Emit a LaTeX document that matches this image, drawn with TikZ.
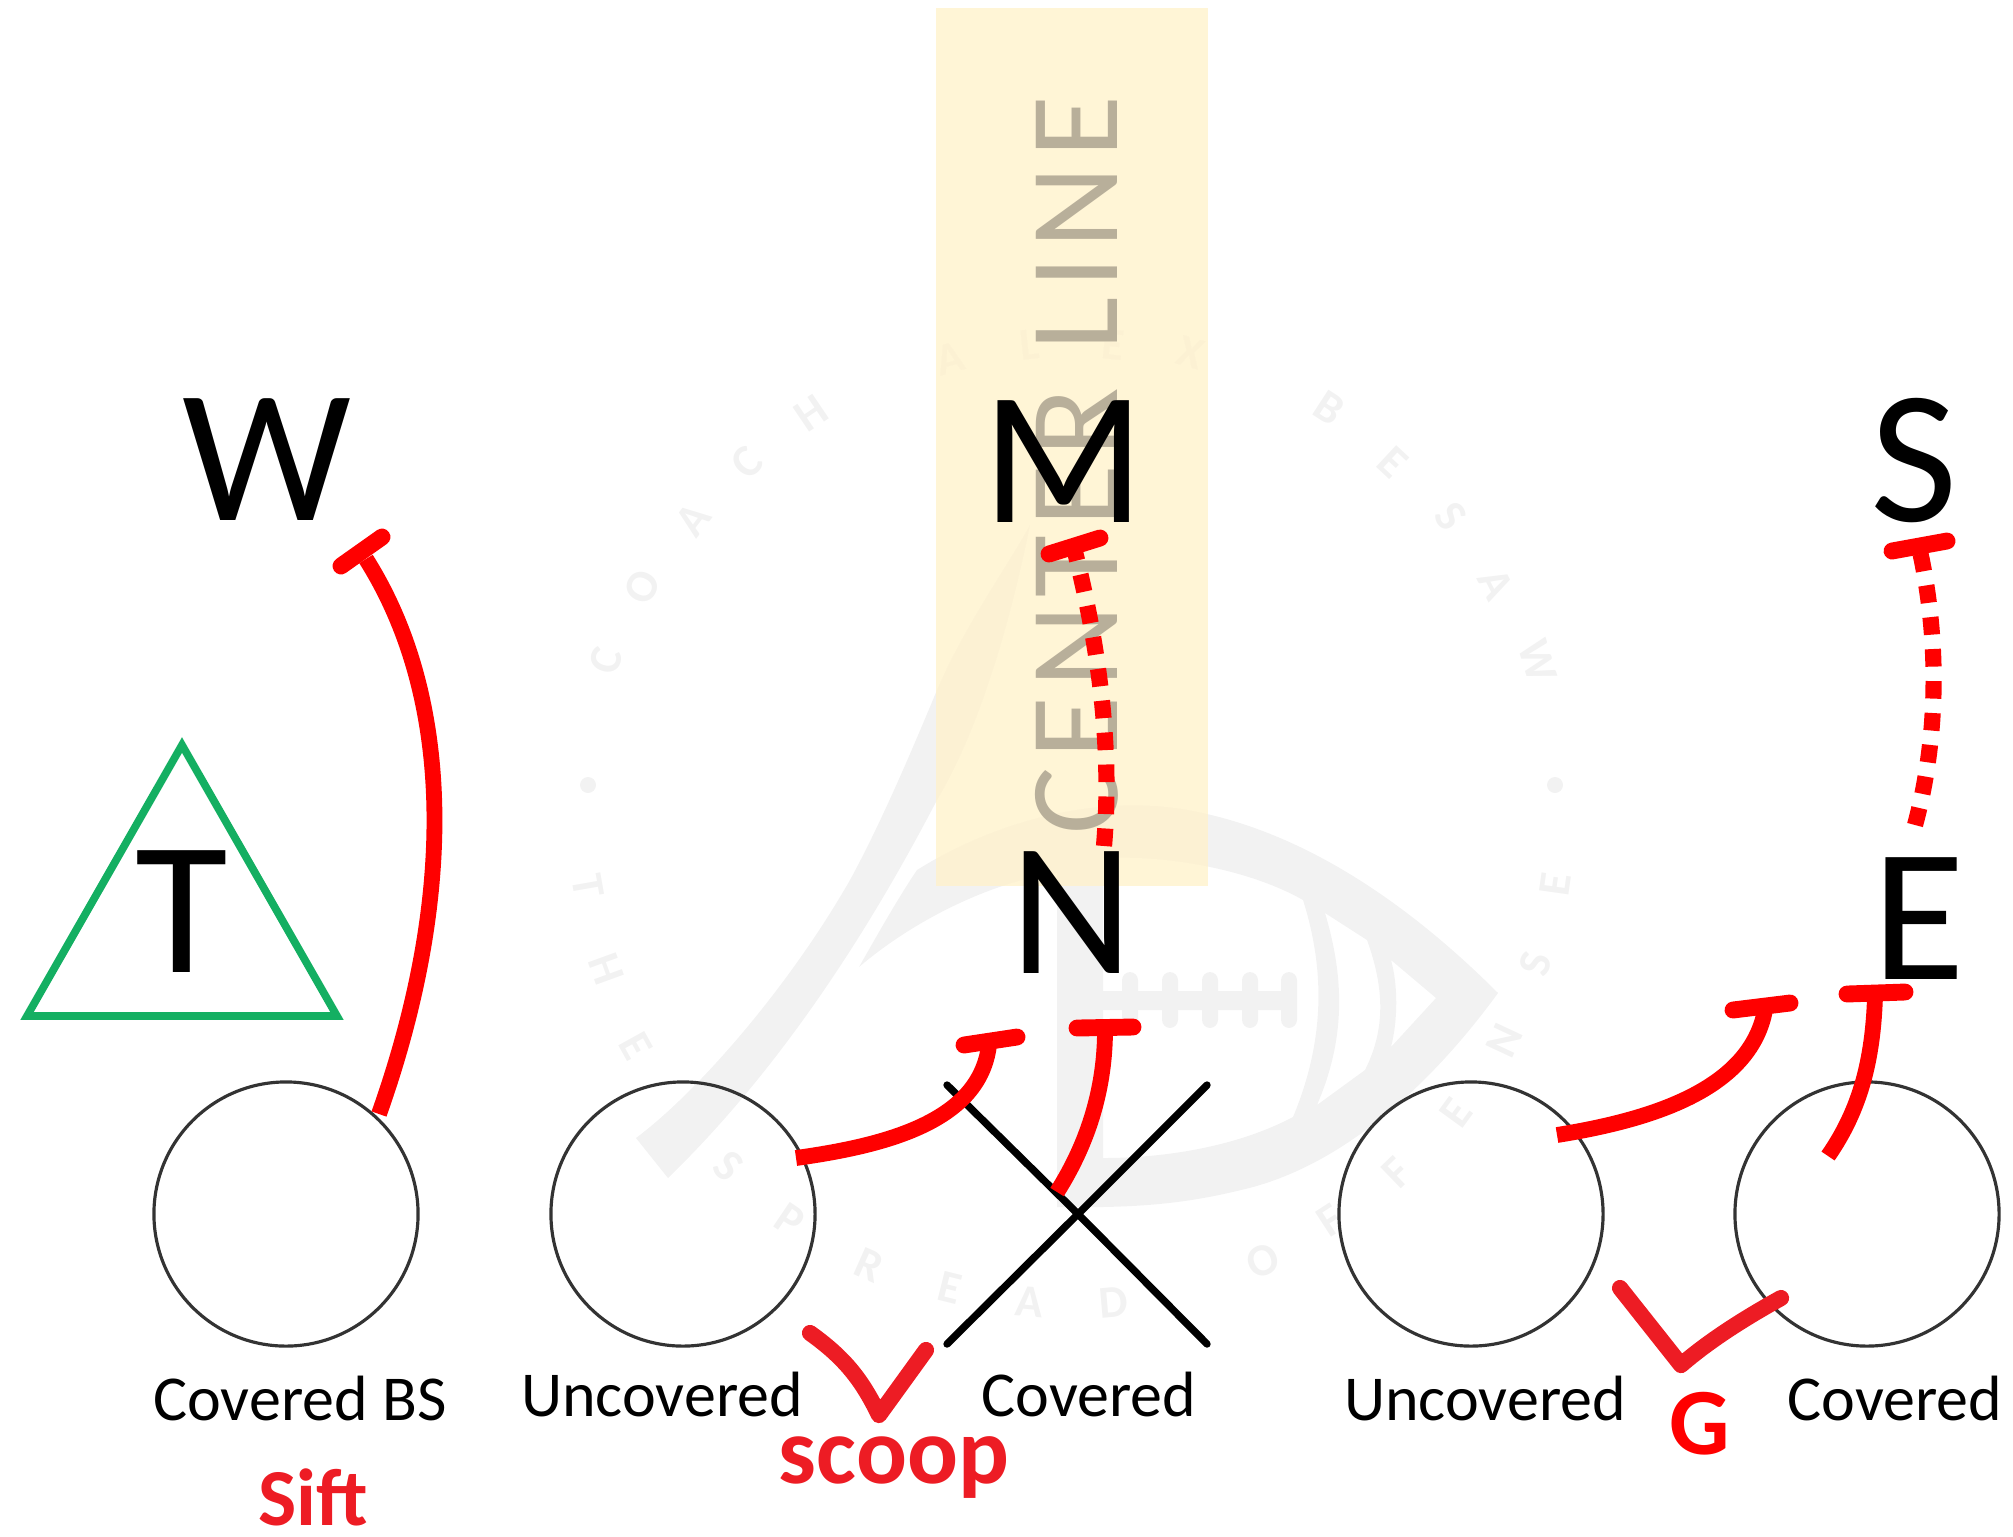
\documentclass[tikz,border=0pt]{standalone}
\usepackage{fontspec}
\setmainfont{Carlito}
\usepackage{xcolor}
\definecolor{notered}{HTML}{ED1C24}
\definecolor{paleyellow}{HTML}{FFF2CC}
\definecolor{linegray}{HTML}{B8AF9A}
\definecolor{trianglegreen}{HTML}{14AF62}
\definecolor{rimgray}{HTML}{333333}
\tikzset{
  player/.style={anchor=base,inner sep=0pt,font=\fontsize{54}{60}\selectfont},
  gapname/.style={anchor=base,inner sep=0pt,font=\fontsize{18.2}{22}\selectfont},
  gapcircle/.style={circle,draw=rimgray,line width=0.9pt,inner sep=0pt,minimum size=2.64cm},
  blockline/.style={draw=red,line width=4.5pt},
  blockdots/.style={draw=red,line width=4.6pt,dash pattern=on 5pt off 4.1pt},
  blockbar/.style={draw=red,line width=4.8pt,line cap=round},
  checkline/.style={draw=notered,line width=4.6pt,line cap=round,line join=round},
  crossline/.style={draw=black,line width=2.1pt,line cap=round},
  wmletter/.style={inner sep=0pt,text opacity=0.05,font=\fontsize{13}{15}\bfseries\selectfont}
}
\begin{document}
\begin{tikzpicture}[x=0.01cm,y=-0.01cm]
          \useasboundingbox (0,0) rectangle (2013,1536);
          \begin{scope}[transparency group,opacity=0.05]
            \fill[black,even odd rule] (859,967) .. controls (880,930) and (900,895) .. (917,870)
              .. controls (1000,818) and (1110,790) .. (1207,814)
              .. controls (1320,840) and (1420,915) .. (1498,993)
              .. controls (1420,1100) and (1330,1170) .. (1241,1190)
              .. controls (1180,1205) and (1130,1208) .. (1057,1207) -- (1057,873)
              .. controls (1000,880) and (920,915) .. (859,967) -- cycle
              (1103,858) .. controls (1170,855) and (1250,870) .. (1303,900)
              .. controls (1325,970) and (1325,1040) .. (1293,1117)
              .. controls (1240,1145) and (1170,1158) .. (1103,1158) -- cycle
              (1325,913) -- (1367,940) .. controls (1385,990) and (1385,1030) .. (1365,1070)
              -- (1317,1105) .. controls (1345,1040) and (1345,980) .. (1325,913) -- cycle
              (1391,960) -- (1436,998) -- (1391,1047) .. controls (1398,1020) and (1398,985) .. (1391,960) -- cycle;
            \fill[black] (636,1138) .. controls (700,1090) and (790,985) .. (850,880)
              .. controls (880,825) and (910,755) .. (937,690)
              .. controls (965,625) and (1005,570) .. (1030,525)
              .. controls (1015,600) and (985,720) .. (937,800)
              .. controls (890,890) and (800,1050) .. (668,1178) -- cycle;
            \fill[black] (1103,991) rectangle (1296,1010);
            \foreach \px in {1130,1170,1210,1250,1289}
              \fill[black,rounded corners=7pt/3] (\px-8,972) rectangle (\px+8,1028);
          \end{scope}
          \foreach \ltr/\px/\py/\ang [count=\i] in {C/606/661/73,O/642/587/63,A/693/520/53,C/747/462/44,H/811/413/34,A/950/359/15,L/1030/345/6,E/1113/345/-6,X/1191/353/-16,B/1329/408/-33,E/1393/462/-43,S/1451/516/-53,A/1496/584/-63,W/1538/661/-73,T/588/886/-80,H/606/969/-70,E/636/1046/-61,S/729/1166/-43,P/790/1220/-34,R/869/1265/-24,E/950/1288/-14,A/1030/1302/-5,D/1114/1302/5,O/1263/1261/23,F/1330/1220/33,F/1397/1173/44,E/1456/1113/54,N/1504/1041/65,S/1535/964/73,E/1555/884/82}
            \node[wmletter,rotate=\ang] (wm\i) at (\px,\py) {\ltr};
          \fill[black,opacity=0.05] (588,785) circle (8);
          \fill[black,opacity=0.05] (1555,785) circle (8);
          \fill[paleyellow,fill opacity=0.8] (936,8) rectangle (1208,886);
          \node[anchor=base,inner sep=0pt,rotate=90,text=linegray,font=\fontsize{36}{42}\selectfont\addfontfeature{LetterSpace=6.8}] (CL) at (1117,465) {CENTER LINE};
          \node[gapcircle] (CBS) at (286,1214) {};
          \node[gapcircle] (UL) at (683,1214) {};
          \node[gapcircle] (UR) at (1471,1214) {};
          \node[gapcircle] (CR) at (1867,1214) {};
          \coordinate (XC) at (1078,1214);
          \draw[crossline] (947,1085) -- (XC) -- (1207,1344);
          \draw[crossline] (947,1344) -- (XC) -- (1207,1085);
          \draw[draw=trianglegreen,line width=2.2pt,miter limit=10] (182,745) -- (337,1016) -- (27,1016) -- cycle;
          \node[player] (W) at (267,520) {W};
          \node[player] (T) at (182,972) {T};
          \node[player] (M) at (1064,522) {M};
          \node[player] (N) at (1072,973) {N};
          \node[player] (S) at (1914,521) {S};
          \node[player] (E) at (1919,979) {E};
          \node[gapname] (coverbs) at (300,1420) {Covered BS};
          \node[gapname] (uncleft) at (662,1416) {Uncovered};
          \node[gapname] (covleft) at (1089,1416) {Covered};
          \node[gapname] (uncright) at (1485,1420) {Uncovered};
          \node[gapname] (covright) at (1895,1420) {Covered};
          \node[anchor=base,inner sep=0pt,text=notered,font=\fontsize{23}{26}\bfseries\selectfont] (sift) at (313,1525) {Sift};
          \node[anchor=base,inner sep=0pt,text=notered,font=\fontsize{27}{32}\bfseries\selectfont] (scoop) at (894,1483) {scoop};
          \node[anchor=base,inner sep=0pt,text=red,font=\fontsize{27}{32}\bfseries\selectfont] (G) at (1700,1454) {G};
          \coordinate (wstart) at (379,1114);
          \coordinate (wend) at (366,559);
          \coordinate (wbarA) at (341,566);
          \coordinate (wbarB) at (382,537);
          \coordinate (ulstart) at (796,1158);
          \coordinate (ulend) at (989,1045);
          \coordinate (ulbarA) at (964,1045);
          \coordinate (ulbarB) at (1017,1037);
          \coordinate (nstart) at (1057,1192);
          \coordinate (nend) at (1105,1030);
          \coordinate (nbarA) at (1077,1028);
          \coordinate (nbarB) at (1133,1027);
          \coordinate (mstart) at (1104,846);
          \coordinate (mend) at (1074,548);
          \coordinate (mbarA) at (1049,554);
          \coordinate (mbarB) at (1100,538);
          \coordinate (ustart) at (1557,1135);
          \coordinate (uend) at (1765,1010);
          \coordinate (ubarA) at (1733,1010);
          \coordinate (ubarB) at (1790,1003);
          \coordinate (cstart) at (1828,1156);
          \coordinate (cend) at (1875,996);
          \coordinate (cbarA) at (1847,994);
          \coordinate (cbarB) at (1905,992);
          \coordinate (sstart) at (1915,825);
          \coordinate (send) at (1919,547);
          \coordinate (sbarA) at (1892,551);
          \coordinate (sbarB) at (1947,541);
          \draw[blockline] (wstart) .. controls (455,900) and (455,700) .. (wend);
          \draw[blockbar] (wbarA) -- (wbarB);
          \draw[blockline] (ulstart) .. controls (890,1145) and (980,1120) .. (ulend);
          \draw[blockbar] (ulbarA) -- (ulbarB);
          \draw[blockline] (nstart) .. controls (1090,1140) and (1105,1085) .. (nend);
          \draw[blockbar] (nbarA) -- (nbarB);
          \draw[blockdots] (mstart) .. controls (1112,750) and (1100,650) .. (mend);
          \draw[blockbar] (mbarA) -- (mbarB);
          \draw[blockline] (ustart) .. controls (1650,1120) and (1750,1090) .. (uend);
          \draw[blockbar] (ubarA) -- (ubarB);
          \draw[blockline] (cstart) .. controls (1860,1110) and (1873,1060) .. (cend);
          \draw[blockbar] (cbarA) -- (cbarB);
          \draw[blockdots] (sstart) .. controls (1938,740) and (1940,640) .. (send);
          \draw[blockbar] (sbarA) -- (sbarB);
          \coordinate (scoopA) at (810,1333);
          \coordinate (scoopB) at (879,1415);
          \coordinate (scoopC) at (926,1350);
          \coordinate (gA) at (1620,1288);
          \coordinate (gB) at (1681,1365);
          \coordinate (gC) at (1781,1298);
          \draw[checkline] (scoopA) .. controls (845,1358) and (862,1380) .. (scoopB) -- (scoopC);
          \draw[checkline] (gA) -- (gB) .. controls (1710,1340) and (1745,1318) .. (gC);
        \end{tikzpicture}
\end{document}
